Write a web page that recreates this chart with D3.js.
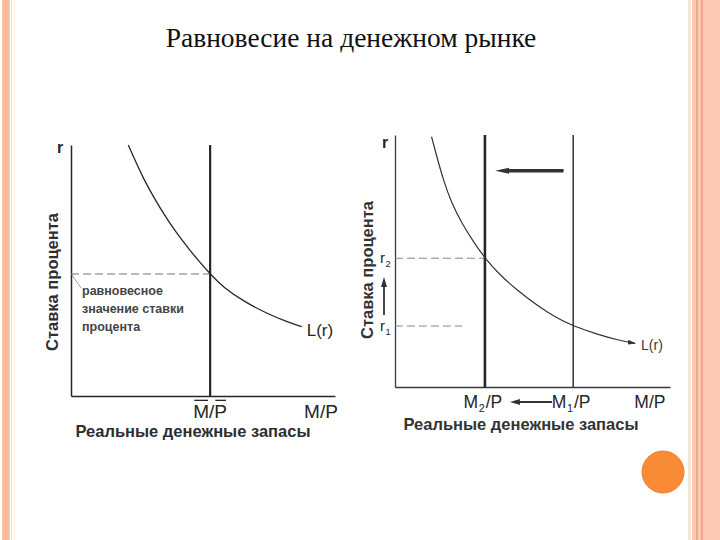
<!DOCTYPE html>
<html><head><meta charset="utf-8">
<script src="https://cdn.jsdelivr.net/npm/d3@7"></script>
<style>html,body{margin:0;padding:0;background:#fff;} svg{display:block;}</style>
</head><body>
<svg id="chart" width="720" height="540"></svg>
<script>
// ---------- text ----------
const titleText = "Равновесие на денежном рынке";
const yAxisTitle = "Ставка процента";
const xAxisTitle = "Реальные денежные запасы";
const annotationLines = ["равновесное", "значение ставки", "процента"];
const curveLabel = "L(r)";

// ---------- left panel data (M/P vs r) ----------
const leftCurveX = [2.17, 2.42, 2.74, 3.12, 3.56, 4.0, 4.51, 4.89, 5.27, 5.77, 6.53, 7.41, 8.17, 8.74];
const leftCurveR = [10.0, 9.40, 8.67, 7.94, 7.17, 6.49, 5.80, 5.32, 4.86, 4.33, 3.78, 3.29, 2.96, 2.76];
const leftSupply = 5.27;      // M/P with bar
const leftEqR = 4.86;         // equilibrium rate
const leftAxisEndLabel = 9.47; // "M/P" tick position

// ---------- right panel data ----------
const rightCurveX = [1.33, 1.52, 1.76, 2.06, 2.43, 2.85, 3.27, 3.82, 4.43, 5.15, 5.88, 6.48, 7.33, 8.18, 8.73];
const rightCurveR = [9.93, 9.14, 8.21, 7.29, 6.50, 5.77, 5.11, 4.44, 3.85, 3.25, 2.73, 2.42, 2.10, 1.84, 1.73];
const rightSupplyNames = ["M2", "M1"];
const rightSupplyValues = [3.27, 6.48];
const rightRateNames = ["r2", "r1"];
const rightRateValues = [5.11, 2.42];
const rightRateDashEnd = [3.27, 2.45];
const rightAxisEndLabel = 9.27;
const shiftArrowX = [6.13, 3.64];   // supply shift arrow (from, to)
const shiftArrowR = 8.58;
const bottomArrowX = [5.71, 4.18];
const rateArrowR = [2.86, 4.37];

// ---------- drawing ----------
const svg = d3.select("#chart");
const ink = "#262626";
const font = "'Liberation Sans', Arial, sans-serif";

// decorative page borders
svg.append("rect").attr("x", 0).attr("y", 0).attr("width", 720).attr("height", 540).attr("fill", "#fff");
svg.append("rect").attr("x", 2).attr("y", 0).attr("width", 8).attr("height", 540).attr("fill", "#fbc3a9");
svg.append("rect").attr("x", 3.5).attr("y", 0).attr("width", 5).attr("height", 540).attr("fill", "#f9b99c");
svg.append("line").attr("x1", 11.5).attr("x2", 11.5).attr("y1", 0).attr("y2", 540).attr("stroke", "#e9e2ee").attr("stroke-width", 1);
svg.append("line").attr("x1", 14.5).attr("x2", 14.5).attr("y1", 0).attr("y2", 540).attr("stroke", "#f7f0d6").attr("stroke-width", 1);
svg.append("rect").attr("x", 688).attr("y", 0).attr("width", 3).attr("height", 540).attr("fill", "#f6e4d4");
svg.append("rect").attr("x", 692).attr("y", 0).attr("width", 28).attr("height", 540).attr("fill", "#fbc8b3");
svg.append("line").attr("x1", 697).attr("x2", 697).attr("y1", 0).attr("y2", 540).attr("stroke", "#f19a78").attr("stroke-width", 1.5);
svg.append("line").attr("x1", 702).attr("x2", 702).attr("y1", 0).attr("y2", 540).attr("stroke", "#f19a78").attr("stroke-width", 1.5);
svg.append("circle").attr("cx", 663).attr("cy", 472).attr("r", 21).attr("fill", "#f98a36").attr("stroke", "#f3802e").attr("stroke-width", 1);

// title
svg.append("text").attr("x", 351).attr("y", 47).attr("text-anchor", "middle")
  .attr("font-family", "'Liberation Serif', 'Times New Roman', serif").attr("font-size", 27.5)
  .attr("fill", "#111").text(titleText);

// markers
const defs = svg.append("defs");
defs.append("marker").attr("id", "headSmall").attr("viewBox", "0 0 10 6").attr("refX", 9).attr("refY", 3)
  .attr("markerWidth", 8).attr("markerHeight", 5).attr("markerUnits", "userSpaceOnUse").attr("orient", "auto")
  .append("path").attr("d", "M0,0 L10,3 L0,6 Z").attr("fill", "#333");

function drawOverlined(g, x, y, str, size, idxs) {
  const t = g.append("text").attr("x", x).attr("y", y).attr("text-anchor", "middle")
    .attr("font-family", font).attr("font-size", size).attr("fill", ink).text(str);
  const node = t.node();
  idxs.forEach(i => {
    const e = node.getExtentOfChar(i);
    g.append("line").attr("x1", e.x + 1).attr("x2", e.x + e.width - 1)
      .attr("y1", y - size * 0.93).attr("y2", y - size * 0.93)
      .attr("stroke", ink).attr("stroke-width", 1.3);
  });
}

function subLabel(g, x, y, base, sub, size, anchor) {
  const t = g.append("text").attr("x", x).attr("y", y).attr("text-anchor", anchor || "start")
    .attr("font-family", font).attr("font-size", size).attr("fill", ink);
  t.append("tspan").text(base[0]);
  t.append("tspan").attr("dx", 0.5).attr("dy", size * 0.24).attr("font-size", size * 0.62).text(sub);
  if (base.length > 1) t.append("tspan").attr("dx", 1).attr("dy", -size * 0.24).text(base.slice(1));
  return t;
}

// ===== Left panel =====
const xL = d3.scaleLinear().domain([0, 10]).range([71, 335]);
const yL = d3.scaleLinear().domain([0, 10]).range([396, 145]);
const gL = svg.append("g");

gL.append("g").attr("transform", `translate(0,${yL(0)})`)
  .call(d3.axisBottom(xL).tickValues([]).tickSizeOuter(0))
  .call(a => a.select(".domain").attr("stroke", ink).attr("stroke-width", 1.5));
gL.append("g").attr("transform", `translate(${xL(0)},0)`)
  .call(d3.axisLeft(yL).tickValues([]).tickSizeOuter(0))
  .call(a => a.select(".domain").attr("stroke", ink).attr("stroke-width", 1.5));

// dashed equilibrium rate
gL.append("line").attr("x1", xL(0)).attr("x2", xL(leftSupply)).attr("y1", yL(leftEqR)).attr("y2", yL(leftEqR))
  .attr("stroke", "#777").attr("stroke-width", 1).attr("stroke-dasharray", "8,4");
// supply line
gL.append("line").attr("x1", xL(leftSupply)).attr("x2", xL(leftSupply)).attr("y1", yL(0)).attr("y2", yL(10))
  .attr("stroke", ink).attr("stroke-width", 2.2);
// demand curve
const leftPts = leftCurveX.map((x, i) => [x, leftCurveR[i]]);
gL.append("path").datum(leftPts)
  .attr("d", d3.line().x(d => xL(d[0])).y(d => yL(d[1])).curve(d3.curveBasis))
  .attr("fill", "none").attr("stroke", ink).attr("stroke-width", 1.3);
// leader line
gL.append("line").attr("x1", xL(0) + 1).attr("y1", yL(leftEqR) + 1).attr("x2", xL(0) + 10).attr("y2", yL(leftEqR) + 14)
  .attr("stroke", "#888").attr("stroke-width", 0.8);
// annotation
annotationLines.forEach((s, i) => {
  gL.append("text").attr("x", xL(0) + 11).attr("y", yL(leftEqR) + 21 + i * 18)
    .attr("font-family", font).attr("font-size", 12.5).attr("font-weight", "bold").attr("fill", "#444").text(s);
});
// labels
gL.append("text").attr("x", xL(0) - 14).attr("y", yL(10) + 8).attr("font-family", font).attr("font-size", 16)
  .attr("font-weight", "bold").attr("fill", ink).text("r");
gL.append("text").attr("x", xL(8.74) + 5).attr("y", yL(2.76) + 9).attr("font-family", font).attr("font-size", 17)
  .attr("fill", ink).text(curveLabel);
drawOverlined(gL, xL(leftSupply), yL(0) + 22, "M/P", 19, [0, 2]);
gL.append("text").attr("x", xL(leftAxisEndLabel)).attr("y", yL(0) + 22).attr("text-anchor", "middle")
  .attr("font-family", font).attr("font-size", 19).attr("fill", ink).text("M/P");
gL.append("text").attr("x", 193).attr("y", yL(0) + 41).attr("text-anchor", "middle")
  .attr("font-family", font).attr("font-size", 16.5).attr("font-weight", "bold").attr("fill", "#2e2e2e").text(xAxisTitle);
gL.append("text").attr("transform", `translate(${xL(0) - 13},282) rotate(-90)`).attr("text-anchor", "middle")
  .attr("font-family", font).attr("font-size", 16.5).attr("font-weight", "bold").attr("fill", "#2e2e2e").text(yAxisTitle);

// ===== Right panel =====
const xR = d3.scaleLinear().domain([0, 10]).range([395, 670]);
const yR = d3.scaleLinear().domain([0, 10]).range([387, 135]);
const gR = svg.append("g");

gR.append("g").attr("transform", `translate(0,${yR(0)})`)
  .call(d3.axisBottom(xR).tickValues([]).tickSizeOuter(0))
  .call(a => a.select(".domain").attr("stroke", "#3a3a3a").attr("stroke-width", 1.3));
gR.append("g").attr("transform", `translate(${xR(0)},0)`)
  .call(d3.axisLeft(yR).tickValues([]).tickSizeOuter(0))
  .call(a => a.select(".domain").attr("stroke", "#3a3a3a").attr("stroke-width", 1.3));

// dashed rates
rightRateValues.forEach((r, i) => {
  gR.append("line").attr("x1", xR(0)).attr("x2", xR(rightRateDashEnd[i])).attr("y1", yR(r)).attr("y2", yR(r))
    .attr("stroke", "#888").attr("stroke-width", 1).attr("stroke-dasharray", "8,4");
});
// supply lines
rightSupplyValues.forEach((m, i) => {
  gR.append("line").attr("x1", xR(m)).attr("x2", xR(m)).attr("y1", yR(0)).attr("y2", yR(10))
    .attr("stroke", ink).attr("stroke-width", i === 0 ? 2.6 : 1.4);
});
// demand curve
const rightPts = rightCurveX.map((x, i) => [x, rightCurveR[i]]);
gR.append("path").datum(rightPts)
  .attr("d", d3.line().x(d => xR(d[0])).y(d => yR(d[1])).curve(d3.curveBasis))
  .attr("fill", "none").attr("stroke", "#333").attr("stroke-width", 1.2).attr("marker-end", "url(#headSmall)");
// shift arrow (top)
gR.append("line").attr("x1", xR(shiftArrowX[0])).attr("x2", xR(shiftArrowX[1]) + 10)
  .attr("y1", yR(shiftArrowR)).attr("y2", yR(shiftArrowR))
  .attr("stroke", "#333").attr("stroke-width", 3.5);
gR.append("path")
  .attr("d", `M${xR(shiftArrowX[1])},${yR(shiftArrowR)} L${xR(shiftArrowX[1]) + 14},${yR(shiftArrowR) - 3} L${xR(shiftArrowX[1]) + 14},${yR(shiftArrowR) + 3} Z`)
  .attr("fill", "#333");
// rate arrow (up)
gR.append("line").attr("x1", xR(0) - 11).attr("x2", xR(0) - 11).attr("y1", yR(rateArrowR[0])).attr("y2", yR(rateArrowR[1]) + 8)
  .attr("stroke", "#333").attr("stroke-width", 1.8);
gR.append("path")
  .attr("d", `M${xR(0) - 11},${yR(rateArrowR[1])} L${xR(0) - 14},${yR(rateArrowR[1]) + 10} L${xR(0) - 8},${yR(rateArrowR[1]) + 10} Z`)
  .attr("fill", "#333");
// bottom arrow
gR.append("line").attr("x1", xR(bottomArrowX[0])).attr("x2", xR(bottomArrowX[1]) + 8)
  .attr("y1", yR(0) + 15).attr("y2", yR(0) + 15).attr("stroke", "#333").attr("stroke-width", 1.8);
gR.append("path")
  .attr("d", `M${xR(bottomArrowX[1])},${yR(0) + 15} L${xR(bottomArrowX[1]) + 10},${yR(0) + 12} L${xR(bottomArrowX[1]) + 10},${yR(0) + 18} Z`)
  .attr("fill", "#333");

// labels
gR.append("text").attr("x", xR(0) - 13).attr("y", yR(10) + 13).attr("font-family", font).attr("font-size", 16)
  .attr("font-weight", "bold").attr("fill", ink).text("r");
rightRateValues.forEach((r, i) => {
  subLabel(gR, xR(0) - 15, yR(r) + 5, "r", rightRateNames[i].slice(1), 15);
});
rightSupplyValues.forEach((m, i) => {
  subLabel(gR, xR(m) - 2, yR(0) + 21, "M/P", rightSupplyNames[i].slice(1), 17.5, "middle");
});
gR.append("text").attr("x", xR(rightAxisEndLabel)).attr("y", yR(0) + 21).attr("text-anchor", "middle")
  .attr("font-family", font).attr("font-size", 17.5).attr("fill", ink).text("M/P");
gR.append("text").attr("x", xR(8.73) + 6).attr("y", yR(1.73) + 7).attr("font-family", font).attr("font-size", 14)
  .attr("fill", "#3a3a3a").text(curveLabel);
gR.append("text").attr("x", 521).attr("y", yR(0) + 43).attr("text-anchor", "middle")
  .attr("font-family", font).attr("font-size", 16.5).attr("font-weight", "bold").attr("fill", "#333").text(xAxisTitle);
gR.append("text").attr("transform", `translate(${xR(0) - 22},270) rotate(-90)`).attr("text-anchor", "middle")
  .attr("font-family", font).attr("font-size", 16.5).attr("font-weight", "bold").attr("fill", "#333").text(yAxisTitle);
</script>
</body></html>
